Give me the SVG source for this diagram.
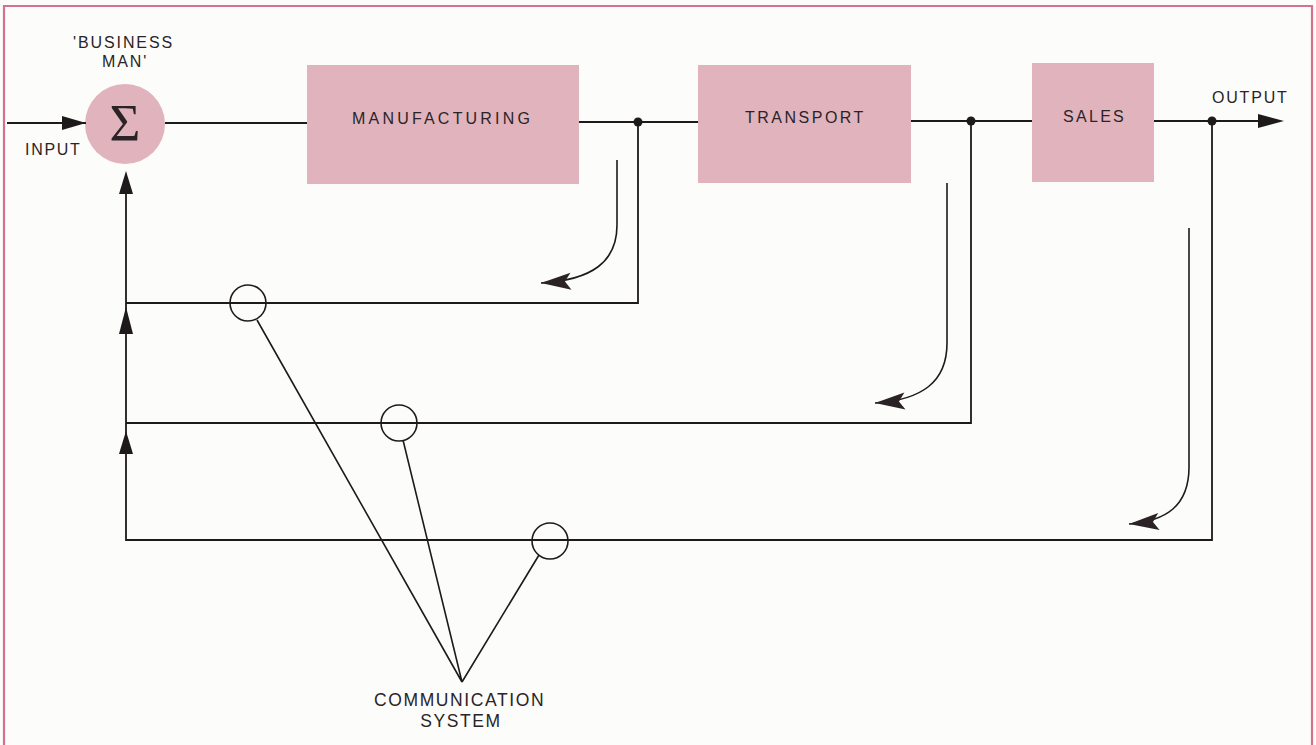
<svg xmlns="http://www.w3.org/2000/svg" width="1316" height="745" viewBox="0 0 1316 745">
  <style>
    .frame { fill: none; stroke: #d4728c; stroke-width: 2.2; }
    .block { fill: #e0b3bd; }
    .lbl { font-family: "Liberation Sans", Arial, sans-serif; font-size: 16px; fill: #2a2426; }
    .big { font-size: 17.5px; }
    .wire { fill: none; stroke: #1e1a1c; stroke-width: 1.8; }
    .thin { fill: none; stroke: #1e1a1c; stroke-width: 1.6; }
    .node { fill: #1e1a1c; }
    .tap { fill: none; stroke: #1e1a1c; stroke-width: 1.6; }
    .head { fill: #1e1a1c; }
  </style>
  <defs>
    <marker id="curlHead" markerUnits="userSpaceOnUse" markerWidth="34" markerHeight="22" viewBox="0 0 34 22" refX="32" refY="11" orient="auto">
      <path d="M32,11 L2,2.5 L8,11 L2,19.5 Z" fill="#2a2224"/>
    </marker>
  </defs>

  <rect width="1316" height="745" fill="#fcfcfb"/>
  <!-- page frame -->
  <path class="frame" d="M4,745 V6 H1312 V745"/>

  <!-- summing junction -->
  <g id="business-man">
    <circle cx="125" cy="124" r="40" fill="#e0b3bd"/>
    <text x="125" y="141" text-anchor="middle" font-family="Liberation Serif, serif" font-size="53" fill="#2a2426">Σ</text>
    <text class="lbl" x="73" y="48" letter-spacing="1.9">'BUSINESS</text>
    <text class="lbl" x="102" y="67" letter-spacing="1.9">MAN'</text>
  </g>

  <g id="manufacturing">
    <rect class="block" x="307" y="65" width="272" height="119"/>
    <text class="lbl" x="352" y="124" letter-spacing="3.2">MANUFACTURING</text>
  </g>

  <g id="transport">
    <rect class="block" x="698" y="65" width="213" height="118"/>
    <text class="lbl" x="745" y="123" letter-spacing="2.5">TRANSPORT</text>
  </g>

  <g id="sales">
    <rect class="block" x="1032" y="63" width="122" height="119"/>
    <text class="lbl" x="1063" y="122" letter-spacing="2.3">SALES</text>
  </g>

  <g id="input-label">
    <text class="lbl" x="25" y="155" letter-spacing="1.7">INPUT</text>
  </g>
  <g id="output-label">
    <text class="lbl" x="1212" y="103" letter-spacing="1.8">OUTPUT</text>
  </g>

  <g id="communication-system">
    <circle class="tap" cx="248" cy="303" r="18"/>
    <circle class="tap" cx="399" cy="423" r="18"/>
    <circle class="tap" cx="550" cy="541" r="18"/>
    <path class="thin" d="M257,320 L462,682 L403,440 M462,682 L539,555"/>
    <text class="lbl big" x="374" y="706" letter-spacing="1.6">COMMUNICATION</text>
    <text class="lbl big" x="461" y="727" text-anchor="middle" letter-spacing="1.6">SYSTEM</text>
  </g>

  <g id="connectors">
    <!-- forward chain -->
    <path class="wire" d="M7,123 H86"/>
    <polygon class="head" points="86,123 62,116 62,130"/>
    <path class="wire" d="M165,123 H307"/>
    <path class="wire" d="M579,122 H698"/>
    <path class="wire" d="M911,121 H1032"/>
    <path class="wire" d="M1154,121 H1260"/>
    <polygon class="head" points="1284,121 1258,114 1258,128"/>
    <circle class="node" cx="638" cy="122" r="4.5"/>
    <circle class="node" cx="971" cy="121" r="4.5"/>
    <circle class="node" cx="1212" cy="121" r="4.5"/>

    <!-- feedback loops -->
    <path class="wire" d="M638,122 V303 H126"/>
    <path class="wire" d="M971,121 V423 H126"/>
    <path class="wire" d="M1212,121 V540 H126 V190"/>
    <polygon class="head" points="126,171 119,194 133,194"/>
    <polygon class="head" points="126,307 119,334 133,334"/>
    <polygon class="head" points="126,431 119,454 133,454"/>

    <!-- loop direction arrows -->
    <path class="thin" d="M617,160 V225 C617,262 592,280 541,283" marker-end="url(#curlHead)"/>
    <path class="thin" d="M947,183 V343 C947,382 922,400 875,403" marker-end="url(#curlHead)"/>
    <path class="thin" d="M1189,228 V467 C1189,506 1166,521 1129,524" marker-end="url(#curlHead)"/>
  </g>
</svg>
